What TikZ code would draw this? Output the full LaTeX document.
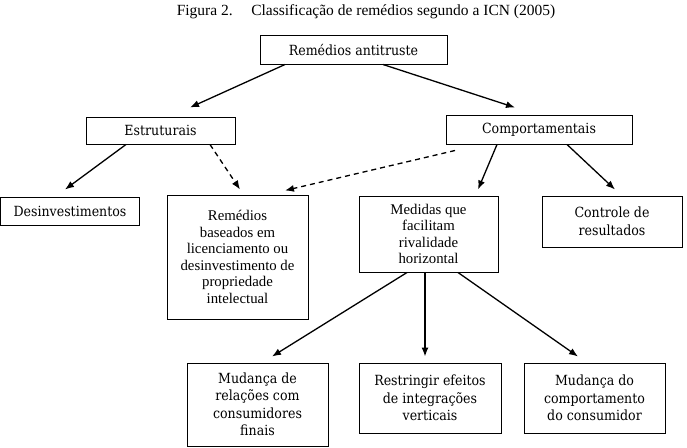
\documentclass[tikz,border=0pt]{standalone}
\usepackage{fontspec}
\setmainfont{Liberation Serif}
\newfontfamily\boxfont{DejaVu Serif Condensed}
\usetikzlibrary{arrows.meta}
\begin{document}
\begin{tikzpicture}[x=1pt,y=-1pt,
  box/.style={draw, line width=1pt, inner sep=0pt, align=center},
  cbox/.style={box, font=\boxfont\fontsize{14}{17.5}\selectfont},
  tbox/.style={box, font=\fontsize{14.8}{16.6}\selectfont},
  arr/.style={line width=1.3pt, -{Latex[length=9pt,width=7pt]}},
  darr/.style={arr, dash pattern=on 5pt off 4pt}]
\useasboundingbox (0,0) rectangle (687,447);

% caption
\node (cap) at (366,12) {\fontsize{15.5}{18}\selectfont Figura 2.\hspace{1.2em}Classificação de remédios segundo a ICN (2005)};

% top level
\node[cbox, minimum width=187pt, minimum height=29pt] (root) at (353.5,49.5) {Remédios antitruste};

% second level
\node[cbox, minimum width=149pt, minimum height=27pt] (estr) at (160.5,130.5) {Estruturais};
\node[cbox, minimum width=186pt, minimum height=29pt] (comp) at (539,129.5) {Comportamentais};

% third level
\node[cbox, minimum width=139pt, minimum height=28pt] (desinv) at (70,211) {Desinvestimentos};
\node[tbox, minimum width=141pt, minimum height=124pt] (remed) at (237.5,257)
  {Remédios\\baseados em\\licenciamento ou\\desinvestimento de\\propriedade\\intelectual};
\node[tbox, minimum width=139pt, minimum height=76pt] (med) at (428.5,234)
  {Medidas que\\facilitam\\rivalidade\\horizontal};
\node[cbox, minimum width=140pt, minimum height=51pt] (ctrl) at (612,221.5)
  {Controle de\\resultados};

% fourth level
\node[cbox, minimum width=141pt, minimum height=83pt] (mud1) at (257.5,404.5)
  {Mudança de\\relações com\\consumidores\\finais};
\node[cbox, minimum width=142pt, minimum height=70pt] (restr) at (430,398)
  {Restringir efeitos\\de integrações\\verticais};
\node[cbox, minimum width=141pt, minimum height=70pt] (mud2) at (594.5,398)
  {Mudança do\\comportamento\\do consumidor};

% connectors
\draw[arr] ([xshift=-68.5pt]root.south) -- ([xshift=29.5pt,yshift=9pt]estr.north);
\draw[arr] ([xshift=29.5pt]root.south) -- ([xshift=-24pt,yshift=7pt]comp.north);
\draw[arr] ([xshift=-34.5pt]estr.south) -- ([xshift=-5pt,yshift=7pt]desinv.north);
\draw[darr] ([xshift=49.5pt]estr.south) -- ([xshift=2.5pt,yshift=5pt]remed.north);
\draw[darr] ([xshift=-84pt,yshift=-6pt]comp.south) -- ([xshift=47.5pt,yshift=4pt]remed.north);
\draw[arr] ([xshift=-42pt]comp.south) -- ([xshift=49.5pt,yshift=6pt]med.north);
\draw[arr] ([xshift=28pt]comp.south) -- ([xshift=3pt,yshift=6pt]ctrl.north);
\draw[arr] ([xshift=-21.5pt]med.south) -- ([xshift=14.5pt,yshift=6pt]mud1.north);
\draw[arr] ([xshift=-3.5pt]med.south) -- ([xshift=-5pt,yshift=6pt]restr.north);
\draw[arr] ([xshift=29.5pt]med.south) -- ([xshift=-16.5pt,yshift=6pt]mud2.north);
\end{tikzpicture}
\end{document}
